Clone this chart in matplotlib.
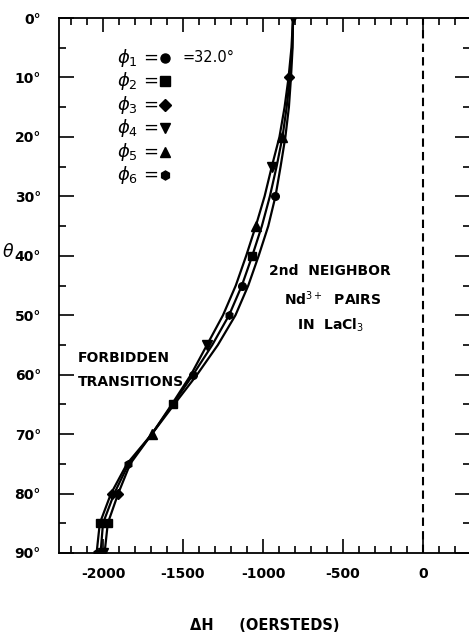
import numpy as np
import matplotlib
matplotlib.use("Agg")
import matplotlib.pyplot as plt
from matplotlib.ticker import MultipleLocator, FixedLocator

# angle theta (deg) and the three delta-H curves (oersteds)
theta = [0, 5, 10, 15, 20, 25, 30, 35, 40, 45, 50, 55, 60, 65, 70, 75, 80, 85, 90]
dh_left = [-812, -822, -840, -865, -897, -945, -990, -1045, -1105, -1170, -1250,
           -1350, -1450, -1570, -1695, -1850, -1950, -2020, -2040]
dh_mid = [-812, -818, -832, -852, -878, -915, -957, -1007, -1067, -1132, -1212,
          -1317, -1437, -1565, -1695, -1840, -1930, -2000, -2015]
dh_right = [-812, -815, -825, -838, -860, -890, -922, -967, -1027, -1092, -1172,
            -1282, -1412, -1555, -1695, -1830, -1905, -1970, -1990]

# measured points (theta, delta-H, phi index)
pt_theta = [0, 10, 20, 25, 30, 35, 40, 45, 50, 55, 60, 65, 70, 75, 80, 80, 85, 85, 90, 90]
pt_dh = [-812, -840, -880, -945, -922, -1045, -1067, -1132, -1212, -1350, -1437,
         -1565, -1695, -1845, -1945, -1905, -2020, -1970, -2035, -2000]
pt_phi = [4, 3, 5, 4, 1, 5, 2, 1, 6, 4, 1, 2, 5, 6, 3, 3, 2, 2, 6, 4]

phi_markers = {1: "o", 2: "s", 3: "D", 4: "v", 5: "^", 6: "h"}
phi_labels = ["1", "2", "3", "4", "5", "6"]

x_major = [-2000, -1500, -1000, -500, 0]
x_labels = ["-2000", "-1500", "-1000", "-500", "0"]
y_major = [0, 10, 20, 30, 40, 50, 60, 70, 80, 90]

plt.rcParams["font.family"] = ["DejaVu Sans"]
plt.rcParams["mathtext.fontset"] = "dejavusans"

fig = plt.figure(figsize=(4.69, 6.35), dpi=100)
ax = fig.add_axes([59 / 469, 82 / 635, 411 / 469, 535 / 635])

for dh in (dh_left, dh_mid, dh_right):
    ax.plot(dh, theta, color="black", lw=1.6, zorder=3)

for t, d, p in zip(pt_theta, pt_dh, pt_phi):
    ms = 5.5 if p in (1, 2, 3, 6) else 6.5
    ax.plot(d, t, marker=phi_markers[p], ms=ms, color="black", ls="none", zorder=4)

ax.axvline(0, color="black", lw=1.5, ls=(0, (4, 2.5)), zorder=2)

ax.set_xlim(-2275, 294)
ax.set_ylim(90, 0)

ax.xaxis.set_major_locator(FixedLocator(x_major))
ax.set_xticklabels(x_labels, fontsize=10, fontweight="bold")
ax.xaxis.set_minor_locator(MultipleLocator(100))
ax.yaxis.set_major_locator(FixedLocator(y_major))
ax.set_yticklabels([f"{v}°" for v in y_major], fontsize=10, fontweight="bold")
ax.yaxis.set_minor_locator(MultipleLocator(5))

ax.tick_params(axis="x", which="major", direction="in", length=10, width=1.2,
               top=True, bottom=True, pad=10)
ax.tick_params(axis="x", which="minor", direction="in", length=5, width=1.2,
               top=True, bottom=True)
ax.tick_params(axis="y", which="major", direction="in", length=11, width=1.2,
               left=True, right=True, pad=13)
ax.tick_params(axis="y", which="minor", direction="in", length=5, width=1.2,
               left=True, right=True)
for sp in ax.spines.values():
    sp.set_linewidth(1.3)

fig.text(265 / 469, 1 - 625 / 635, "ΔH     (OERSTEDS)", fontsize=10.5,
         fontweight="bold", ha="center", va="center")
ax.set_ylabel(r"$\theta$", fontsize=12.5, rotation=0, va="center", ha="center")
ax.yaxis.set_label_coords(-0.124, 0.562)

# phi legend
for i, lab in enumerate(phi_labels):
    y = 6.7 + i * 3.95
    ax.text(-1910, y, r"$\phi_{%s}$ =" % lab, fontsize=13, va="center", ha="left")
    ax.plot(-1615, y, marker=phi_markers[i + 1], ms=6.5, color="black", ls="none")
ax.text(-1500, 6.7, "=32.0°", fontsize=10.5, va="center", ha="left")

ax.text(-960, 42.6, "2nd  NEIGHBOR", fontsize=10, fontweight="bold", ha="left", va="center")
ax.text(-870, 47.2, r"Nd$^{3+}$  PAIRS", fontsize=10, fontweight="bold", ha="left", va="center")
ax.text(-790, 51.7, r"IN  LaCl$_3$", fontsize=10, fontweight="bold", ha="left", va="center")

ax.text(-2160, 57.2, "FORBIDDEN", fontsize=10, fontweight="bold", ha="left", va="center")
ax.text(-2160, 61.3, "TRANSITIONS", fontsize=10, fontweight="bold", ha="left", va="center")

fig.savefig("out.png", dpi=100)
